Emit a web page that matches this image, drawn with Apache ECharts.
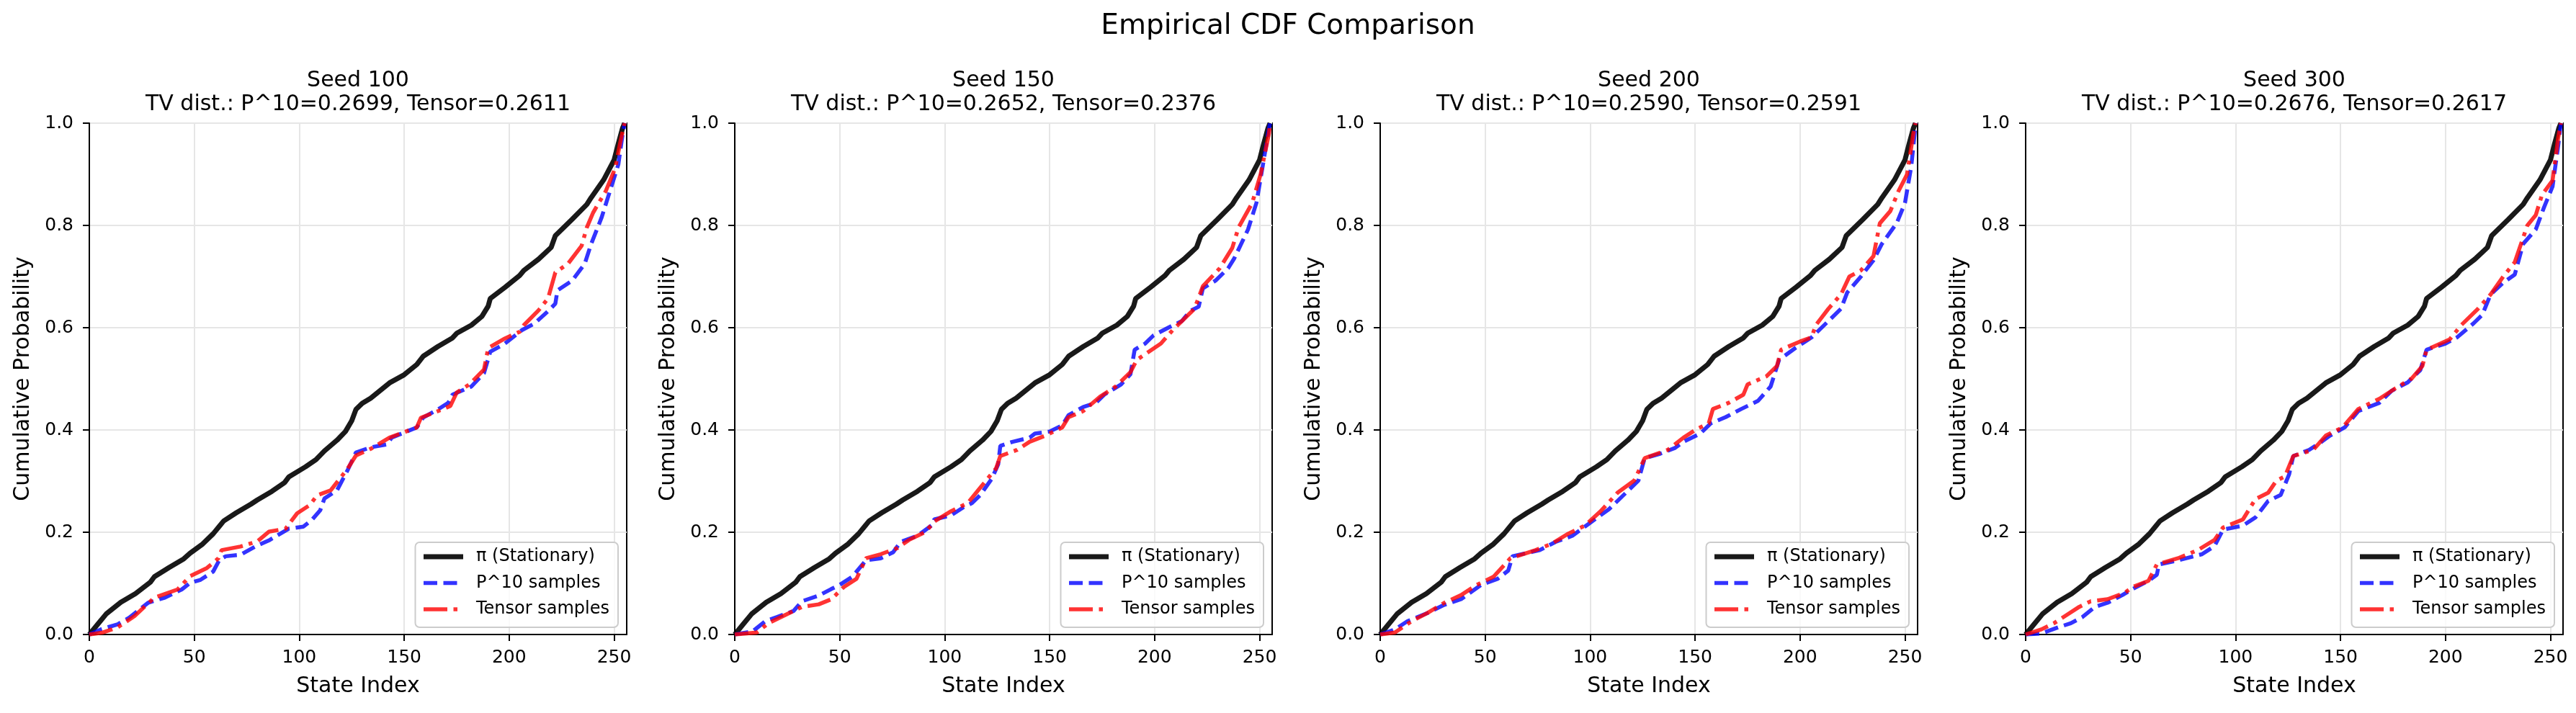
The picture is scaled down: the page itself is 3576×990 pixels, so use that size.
<!DOCTYPE html>
<html>
<head>
<meta charset="utf-8">
<script src="https://cdn.jsdelivr.net/npm/echarts@6/dist/echarts.min.js"></script>
<style>
  html, body { margin: 0; padding: 0; background: #fff; }
  #chart { width: 3576px; height: 990px; }
</style>
</head>
<body>
<div id="chart"></div>
<script>
// ---------- data ----------
const seeds = [100, 150, 200, 300];
const tvP10 = ['0.2699', '0.2652', '0.2590', '0.2676'];
const tvTensor = ['0.2611', '0.2376', '0.2591', '0.2617'];
const seriesNames = ['π (Stationary)', 'P^10 samples', 'Tensor samples'];
const xTicks = [0, 50, 100, 150, 200, 250];

// stationary CDF (same in every panel): [state index, cumulative probability]
const piCdf = [[0,0],[4,0.02],[8,0.04],[15,0.063],[22,0.08],[29,0.102],[31,0.113],[38,0.131],[45,0.148],[48,0.159],[54,0.177],[59,0.197],[62,0.212],[64,0.222],[70,0.238],[77,0.255],[80,0.263],[87,0.28],[93,0.297],[95,0.308],[103,0.328],[108,0.342],[112,0.359],[118,0.38],[122,0.397],[125,0.418],[127,0.44],[130,0.452],[134,0.462],[143,0.492],[150,0.508],[156,0.528],[159,0.544],[166,0.563],[173,0.58],[175,0.589],[182,0.605],[187,0.622],[190,0.642],[191,0.657],[198,0.679],[205,0.702],[207,0.712],[214,0.734],[220,0.757],[222,0.78],[230,0.812],[237,0.841],[239,0.854],[245,0.889],[250,0.928],[252,0.96],[254,0.99],[255,1.0]];

const p10Seed100 = [[0,0],[5.5,0.01],[13.5,0.02],[19,0.033],[28,0.062],[36,0.072],[44,0.088],[48,0.101],[53,0.107],[59,0.123],[62,0.146],[65,0.153],[72,0.156],[79,0.172],[86,0.185],[95,0.207],[102,0.211],[106,0.224],[110,0.243],[112,0.266],[118,0.282],[123,0.321],[127,0.356],[134,0.366],[142,0.372],[144,0.385],[156,0.405],[159,0.424],[166,0.44],[171,0.453],[173,0.469],[182,0.485],[188,0.511],[191,0.553],[198,0.569],[206,0.595],[212,0.608],[219,0.634],[222,0.647],[223,0.673],[230,0.692],[236,0.725],[239,0.763],[244,0.815],[248,0.867],[252,0.919],[254,0.977],[255,1]];
const tensorSeed100 = [[0,0],[6.5,0.004],[13.5,0.014],[21.5,0.036],[31,0.072],[42,0.088],[48,0.114],[56,0.13],[61.5,0.149],[63,0.165],[72,0.172],[80,0.182],[85.5,0.201],[93.5,0.207],[99,0.237],[105,0.253],[108.5,0.272],[115,0.282],[123,0.324],[127,0.35],[134,0.363],[143,0.385],[156,0.405],[158,0.424],[168,0.44],[172,0.447],[175,0.473],[181,0.489],[188,0.518],[190,0.56],[198,0.579],[205,0.592],[207,0.605],[214,0.634],[218.5,0.657],[222,0.708],[228,0.725],[234.5,0.76],[237,0.796],[240,0.825],[246,0.867],[250.5,0.912],[253.3,0.97],[255,1]];

const p10Seed150 = [[0,0],[8.5,0.006],[14.5,0.026],[20,0.034],[28,0.046],[32,0.065],[40,0.076],[46,0.089],[50,0.097],[56,0.113],[62.5,0.145],[69.5,0.149],[75.5,0.161],[79,0.181],[87,0.193],[94,0.214],[95,0.225],[103,0.233],[109,0.249],[113,0.257],[117,0.273],[122.5,0.305],[125.5,0.333],[126.5,0.369],[132.5,0.377],[140.5,0.385],[143,0.393],[150,0.397],[156,0.409],[159,0.429],[166,0.445],[172,0.453],[176,0.469],[184,0.489],[188.5,0.509],[190.5,0.557],[195.5,0.569],[199.5,0.585],[207,0.601],[213,0.613],[217,0.633],[221,0.641],[223,0.677],[229,0.692],[235,0.716],[238,0.736],[244.5,0.792],[248.5,0.844],[251.5,0.916],[254.5,0.99],[255,1]];
const tensorSeed150 = [[0,0],[10.5,0.004],[16,0.022],[24,0.038],[32,0.054],[40,0.059],[46,0.069],[52,0.093],[58,0.109],[62.5,0.149],[69.5,0.157],[77.5,0.169],[83,0.185],[91,0.201],[95,0.221],[103,0.241],[111,0.257],[116.5,0.285],[124.5,0.325],[126.5,0.349],[134.5,0.361],[140.5,0.377],[148,0.389],[156,0.405],[159,0.425],[166,0.437],[174,0.465],[181.5,0.485],[188.5,0.513],[191.5,0.537],[203,0.569],[209,0.597],[219,0.637],[223,0.681],[231,0.716],[237,0.756],[240,0.796],[246.5,0.844],[250.5,0.9],[254.5,0.98],[255,1]];

const p10Seed200 = [[0,0],[7,0.01],[13,0.026],[22.5,0.042],[30.5,0.058],[38.5,0.069],[48,0.097],[56,0.109],[61,0.125],[63,0.153],[76,0.165],[83.5,0.181],[91.5,0.193],[99.5,0.217],[109,0.245],[117,0.277],[123,0.301],[126,0.345],[133,0.353],[140.5,0.365],[144.5,0.377],[152.5,0.393],[157.5,0.413],[164.5,0.425],[172,0.441],[180,0.457],[186,0.485],[190,0.537],[198,0.561],[205.5,0.581],[213.5,0.613],[219.5,0.637],[222.5,0.669],[229,0.7],[235,0.732],[239,0.764],[246,0.804],[250,0.844],[253,0.916],[254.8,0.988],[255,1]];
const tensorSeed200 = [[0,0],[7,0.004],[15,0.026],[22.5,0.042],[30.5,0.062],[38.5,0.077],[46,0.097],[54,0.113],[62,0.149],[74,0.165],[81.5,0.177],[89.5,0.197],[97.5,0.213],[105,0.241],[113,0.277],[121,0.301],[126,0.345],[137,0.361],[144.5,0.385],[150.5,0.401],[156.5,0.413],[158.5,0.441],[166,0.453],[173,0.469],[175,0.489],[184,0.505],[189,0.525],[191,0.557],[200,0.573],[205.5,0.581],[207.5,0.605],[213.5,0.637],[219.5,0.665],[223.5,0.7],[229,0.712],[235,0.74],[238,0.804],[243,0.828],[247,0.868],[251,0.9],[254,0.98],[255,1]];

const p10Seed300 = [[0,0],[7.5,0.002],[15.5,0.014],[21.5,0.022],[27,0.034],[33,0.054],[39,0.062],[46,0.077],[51,0.089],[58.5,0.105],[62.5,0.117],[63.5,0.137],[72.5,0.145],[84,0.157],[90,0.173],[94,0.205],[103.5,0.213],[109.5,0.229],[115.5,0.261],[121.5,0.273],[125.5,0.313],[127.5,0.349],[135,0.361],[141,0.377],[145,0.389],[152,0.405],[158.5,0.437],[168.5,0.453],[174.5,0.477],[182,0.493],[188,0.517],[191,0.557],[200,0.569],[205.5,0.581],[213.5,0.609],[217.5,0.625],[221.5,0.665],[227.5,0.688],[233,0.704],[237,0.764],[243,0.792],[247,0.836],[251,0.876],[253.7,0.956],[255,1]];
const tensorSeed300 = [[0,0],[7.5,0.01],[13.5,0.022],[19.5,0.038],[25.5,0.054],[31,0.065],[39,0.069],[47,0.081],[51,0.093],[58.5,0.105],[62.5,0.137],[72.5,0.149],[82,0.165],[90,0.185],[94,0.209],[103.5,0.225],[109.5,0.265],[115.5,0.277],[119.5,0.301],[123.5,0.309],[127.5,0.349],[137,0.361],[143,0.389],[151,0.405],[158.5,0.441],[168.5,0.461],[176,0.481],[184,0.501],[189,0.525],[191,0.557],[202,0.577],[207.5,0.605],[215.5,0.637],[221.5,0.665],[227.5,0.7],[233,0.728],[239,0.8],[243,0.82],[246,0.86],[251,0.888],[253.7,0.972],[255,1]];

const p10Panels = [p10Seed100, p10Seed150, p10Seed200, p10Seed300];
const tensorPanels = [tensorSeed100, tensorSeed150, tensorSeed200, tensorSeed300];

// ---------- layout / style ----------
const W = 3576, H = 990;
const gridLeft0 = 124, gridStep = 896, gridW = 746, gridTop = 171, gridH = 710;
const FONT = 'DejaVu Sans';
const lineStyles = [
  { color: '#000000', width: 7, opacity: 0.9, type: 'solid' },
  { color: '#0000ff', width: 5.5, opacity: 0.8, type: [19, 8.5] },
  { color: '#ff0000', width: 5.5, opacity: 0.8, type: [33, 8.5, 5.5, 8.5] }
];
const legendColors = ['#111111', '#3333ff', '#ff3333'];

const chart = echarts.init(document.getElementById('chart'), null, { renderer: 'canvas', width: W, height: H });

const titles = [{
  text: 'Empirical CDF Comparison',
  left: 'center', top: 17, padding: 0,
  textStyle: { fontFamily: FONT, fontSize: 39, fontWeight: 'normal', color: '#000', lineHeight: 40 }
}];
const grids = [], xAxes = [], yAxes = [], series = [], legends = [];

seeds.forEach((seed, i) => {
  const left = gridLeft0 + gridStep * i;
  titles.push({
    text: 'Seed ' + seed + '\nTV dist.: P^10=' + tvP10[i] + ', Tensor=' + tvTensor[i],
    left: left + gridW / 2, top: 96, textAlign: 'center', padding: 0,
    textStyle: { fontFamily: FONT, fontSize: 30, fontWeight: 'normal', color: '#000', lineHeight: 33 }
  });
  grids.push({
    left: left, top: gridTop, width: gridW, height: gridH,
    show: true, borderColor: '#000', borderWidth: 2, backgroundColor: 'transparent',
    containLabel: false, outerBoundsMode: 'none'
  });
  xAxes.push({
    type: 'value', gridIndex: i, min: 0, max: 256, interval: 50,
    name: 'State Index', nameLocation: 'middle', nameGap: 57,
    nameTextStyle: { fontFamily: FONT, fontSize: 30, color: '#000' },
    axisLine: { show: true, onZero: false, lineStyle: { color: '#000', width: 2 } },
    axisTick: { show: true, length: 9, customValues: xTicks, lineStyle: { color: '#000', width: 2 } },
    axisLabel: { show: true, margin: 20, customValues: xTicks, fontFamily: FONT, fontSize: 25, color: '#000' },
    splitLine: { show: true, lineStyle: { color: '#e6e6e6', width: 2 } }
  });
  yAxes.push({
    type: 'value', gridIndex: i, min: 0, max: 1, interval: 0.2,
    name: 'Cumulative Probability', nameLocation: 'middle', nameGap: 77,
    nameTextStyle: { fontFamily: FONT, fontSize: 30, color: '#000' },
    axisLine: { show: true, onZero: false, lineStyle: { color: '#000', width: 2 } },
    axisTick: { show: true, length: 9, lineStyle: { color: '#000', width: 2 } },
    axisLabel: { show: true, margin: 22, fontFamily: FONT, fontSize: 25, color: '#000',
                 formatter: v => v.toFixed(1) },
    splitLine: { show: true, lineStyle: { color: '#e6e6e6', width: 2 } }
  });
  const panelData = [piCdf, p10Panels[i], tensorPanels[i]];
  seriesNames.forEach((nm, k) => {
    series.push({
      name: nm, type: 'line', xAxisIndex: i, yAxisIndex: i,
      data: panelData[k], symbol: 'none', showSymbol: false, silent: true, z: 2 + k,
      color: legendColors[k],
      lineStyle: lineStyles[k]
    });
  });
  legends.push({
    data: seriesNames.map((nm, k) => ({
      name: nm,
      itemStyle: { opacity: 0, borderWidth: 0 },
      lineStyle: { width: lineStyles[k].width, type: lineStyles[k].type, opacity: lineStyles[k].opacity, color: lineStyles[k].color, cap: 'butt' }
    })),
    orient: 'vertical',
    right: W - (858 + gridStep * i), bottom: 119,
    itemWidth: 55, itemHeight: 14, itemGap: 12.5,
    padding: [8, 12, 13, 8],
    backgroundColor: 'rgba(255,255,255,0.8)',
    borderColor: '#cccccc', borderWidth: 2, borderRadius: 6,
    selectedMode: false,
    textStyle: { fontFamily: FONT, fontSize: 24, color: '#000', lineHeight: 24, padding: [0, 0, 0, 13] }
  });
});

chart.setOption({
  animation: false,
  backgroundColor: '#fff',
  title: titles,
  grid: grids,
  xAxis: xAxes,
  yAxis: yAxes,
  legend: legends,
  series: series
});
</script>
</body>
</html>
